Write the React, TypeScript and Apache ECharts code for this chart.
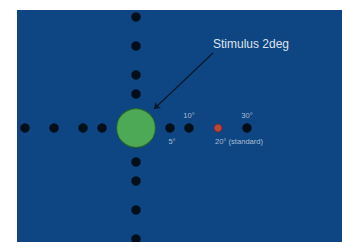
import React, { useEffect, useRef } from "react";
import * as echarts from "echarts";

// Eccentricity of the fixation dots (degrees) and their plotted distance from the stimulus centre (chart units)
const eccentricities = [5, 10, 20, 30];
const plotDistance = [34, 53, 82, 111];
// Right-hand labelled dots
const rightLabels = ["5°", "10°", "20° (standard)", "30°"];
const labelAbove = [false, true, false, true];
const standardIndex = 2; // the 20° dot is the red standard
const stimulusLabel = "Stimulus 2deg";
const stimulusSize = 39;

export default function App() {
  const ref = useRef<HTMLDivElement>(null);
  useEffect(() => {
    if (!ref.current) return;
    const chart = echarts.init(ref.current, null, { renderer: "svg" });

    const blackPts: number[][] = [];
    plotDistance.forEach((d) => {
      blackPts.push([-d, 0]);
      blackPts.push([0, d]);
      blackPts.push([0, -d]);
    });
    const rightPts = plotDistance.map((d, i) => ({
      value: [d, 0],
      name: rightLabels[i],
      itemStyle:
        i === standardIndex
          ? { color: "#e8442c", borderColor: "#7a1a10", borderWidth: 0.8 }
          : { color: "#000000" },
      symbolSize: i === standardIndex ? 8 : 9.5,
      label: {
        show: true,
        formatter: rightLabels[i],
        position: labelAbove[i] ? "top" : "bottom",
        offset: i === standardIndex ? [21, 0] : i === 0 ? [2, 0] : [0, 1],
        color: "#d6dde6",
        fontSize: 7.6,
        fontFamily: "Liberation Sans",
      },
    }));

    chart.setOption({
      animation: false,
      backgroundColor: "#ffffff",
      grid: {
        left: 17,
        top: 10,
        right: 0,
        bottom: 0,
        show: true,
        backgroundColor: "#0d4682",
        borderWidth: 0,
      },
      xAxis: { type: "value", min: -119, max: 206, show: false },
      yAxis: { type: "value", min: -114, max: 118, show: false },
      graphic: [
        {
          type: "text",
          left: 213,
          top: 38,
          style: {
            text: stimulusLabel,
            fill: "#dfe4ec",
            fontSize: 12,
            fontFamily: "Liberation Sans",
          },
        },
      ],
      series: [
        {
          type: "scatter",
          symbolSize: 9.5,
          itemStyle: { color: "#000000" },
          data: blackPts,
        },
        {
          type: "scatter",
          data: rightPts,
        },
        {
          type: "scatter",
          symbolSize: stimulusSize,
          itemStyle: { color: "#5fc24c", borderColor: "#1f5a2a", borderWidth: 1.2 },
          data: [[0, 0]],
          markLine: {
            silent: true,
            symbol: ["none", "arrow"],
            symbolSize: 6,
            label: { show: false },
            lineStyle: { color: "#0a1628", width: 1.2, type: "solid" },
            data: [[{ coord: [77, 75] }, { coord: [18, 19] }]],
          },
        },
      ],
    });
    return () => chart.dispose();
  }, []);
  return (
    <div
      ref={ref}
      style={{ position: "absolute", left: 0, top: 0, width: 342, height: 242 }}
    />
  );
}
